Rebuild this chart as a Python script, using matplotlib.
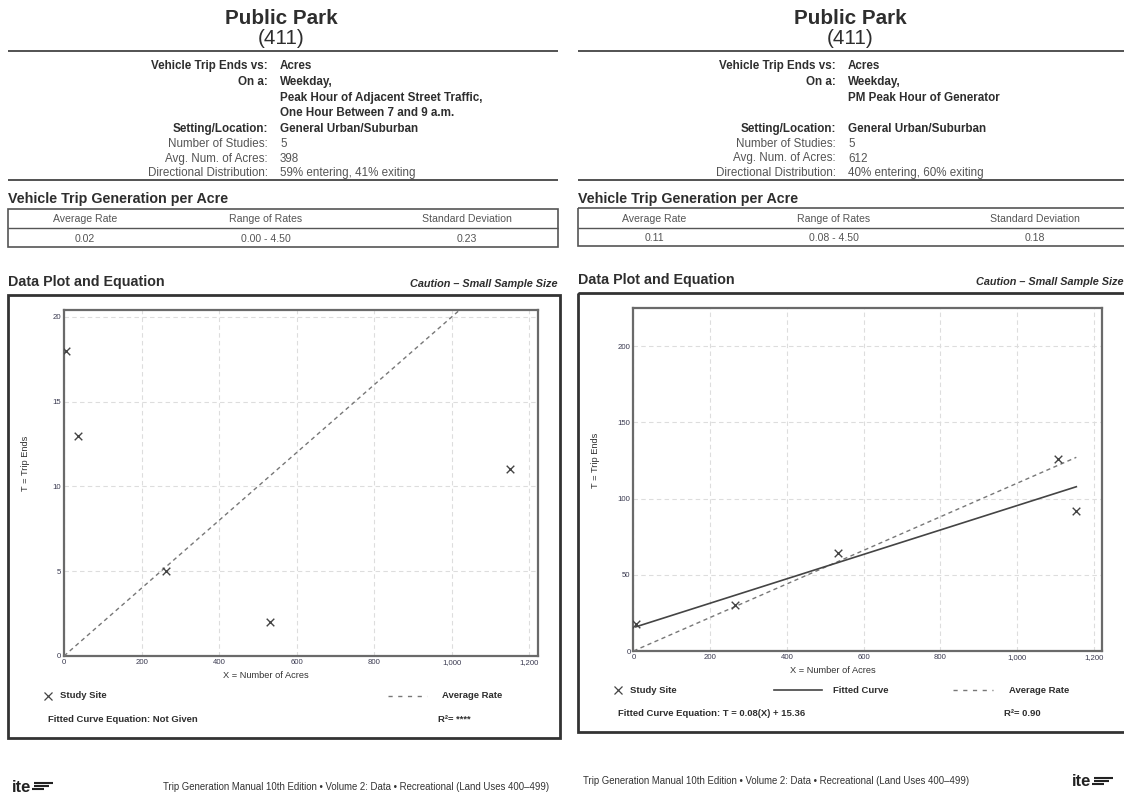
import matplotlib
matplotlib.use("Agg")
import matplotlib.pyplot as plt
from matplotlib.patches import Rectangle
from matplotlib.lines import Line2D

plt.rcParams['font.family'] = ['Liberation Sans', 'DejaVu Sans']

# ---------------- data ----------------
land_use = "Public Park"
land_use_code = "(411)"

left_info_labels = ["Vehicle Trip Ends vs:", "On a:", "", "", "Setting/Location:",
                    "Number of Studies:", "Avg. Num. of Acres:", "Directional Distribution:"]
left_info_values = ["Acres", "Weekday,", "Peak Hour of Adjacent Street Traffic,",
                    "One Hour Between 7 and 9 a.m.", "General Urban/Suburban",
                    "5", "398", "59% entering, 41% exiting"]
right_info_labels = ["Vehicle Trip Ends vs:", "On a:", "", "", "Setting/Location:",
                     "Number of Studies:", "Avg. Num. of Acres:", "Directional Distribution:"]
right_info_values = ["Acres", "Weekday,", "PM Peak Hour of Generator", "",
                     "General Urban/Suburban", "5", "612", "40% entering, 60% exiting"]

table_headers = ["Average Rate", "Range of Rates", "Standard Deviation"]
left_table_values = ["0.02", "0.00 - 4.50", "0.23"]
right_table_values = ["0.11", "0.08 - 4.50", "0.18"]

left_acres = [5, 36, 264, 531, 1150]
left_trips = [18, 13, 5, 2, 11]
left_avg_rate = 0.02

right_acres = [6, 265, 533, 1107, 1155]
right_trips = [18, 30, 64, 126, 92]
right_avg_rate = 0.11
right_fit_slope = 0.08
right_fit_intercept = 15.36
right_r2 = "0.90"

x_ticks = [0, 200, 400, 600, 800, 1000, 1200]
x_tick_labels = ["0", "200", "400", "600", "800", "1,000", "1,200"]
left_y_ticks = [0, 5, 10, 15, 20]
right_y_ticks = [0, 50, 100, 150, 200]

footer = "Trip Generation Manual 10th Edition \u2022 Volume 2: Data \u2022 Recreational (Land Uses 400\u2013499)"

# ---------------- page ----------------
W, H = 1124, 794
fig = plt.figure(figsize=(W / 100, H / 100), dpi=100)
fig.patch.set_facecolor("white")

page = fig.add_axes([0, 0, 1, 1], zorder=0)
page.set_xlim(0, W)
page.set_ylim(H, 0)
page.axis("off")

DARK = "#2e2e2e"
GRAY = "#555555"
INFO_FS = 8.4
TABLE_FS = 7.6
HEAD_FS = 10.3
LEG_FS = 6.8
AXLAB_FS = 6.7


def hline(x0, x1, y, lw=1.3, color="#444444"):
    page.add_line(Line2D([x0, x1], [y, y], lw=lw, color=color, solid_capstyle="butt"))


def header_block(x0, x1, cx, lx, labels, values, row_ys):
    page.text(cx, 18, land_use, ha="center", va="center", fontsize=14.9,
              fontweight="bold", color=DARK)
    page.text(cx, 39, land_use_code, ha="center", va="center", fontsize=14.9,
              color=DARK)
    hline(x0, x1, 50.5)
    for i, (lab, val, y) in enumerate(zip(labels, values, row_ys)):
        bold = i < 5
        col = DARK if bold else GRAY
        fw = "bold" if bold else "normal"
        if lab:
            page.text(lx, y, lab, ha="right", va="center", fontsize=INFO_FS,
                      fontweight=fw, color=col)
        if val:
            page.text(lx + 12, y, val, ha="left", va="center", fontsize=INFO_FS,
                      fontweight=fw, color=col)
    hline(x0, x1, 180)


def rate_table(x0, x1, top, mid, bottom, col_x, values):
    page.text(x0 + 0.5, top - 9.5, "Vehicle Trip Generation per Acre", ha="left",
              va="center", fontsize=HEAD_FS, fontweight="bold", color=DARK)
    page.add_patch(Rectangle((x0, top), x1 - x0, bottom - top, fill=False,
                             lw=1.2, edgecolor="#555555"))
    hline(x0, x1, mid, lw=1.0, color="#555555")
    for cx, h, v in zip(col_x, table_headers, values):
        page.text(cx, (top + mid) / 2 + 0.5, h, ha="center", va="center",
                  fontsize=TABLE_FS, color=GRAY)
        page.text(cx, (mid + bottom) / 2 + 1.5, v, ha="center", va="center",
                  fontsize=TABLE_FS, color=GRAY)


def plot_frame(x0, x1, title_y, box_top, box_bottom, box_right):
    page.text(x0 + 0.5, title_y, "Data Plot and Equation", ha="left", va="center",
              fontsize=HEAD_FS, fontweight="bold", color=DARK)
    page.text(x1, title_y + 2, "Caution \u2013 Small Sample Size", ha="right",
              va="center", fontsize=7.8, fontweight="bold", style="italic",
              color=DARK)
    page.add_patch(Rectangle((x0, box_top), box_right - x0, box_bottom - box_top,
                             fill=False, lw=2.0, edgecolor="#333333"))


def data_axes(rect_px, xmax, ymax, yticks):
    l, t, r, b = rect_px
    ax = fig.add_axes([l / W, 1 - b / H, (r - l) / W, (b - t) / H], zorder=2)
    ax.set_xlim(0, xmax)
    ax.set_ylim(0, ymax)
    ax.set_xticks(x_ticks)
    ax.set_xticklabels(x_tick_labels)
    ax.set_yticks(yticks)
    ax.tick_params(length=0, labelsize=5.6, colors="#3a3a50", pad=2)
    ax.grid(True, color="#dddddd", lw=0.8, ls=(0, (4, 3)))
    ax.set_axisbelow(True)
    for s in ax.spines.values():
        s.set_color("#6a6a6a")
        s.set_linewidth(1.6)
    return ax


# ---------------- left panel ----------------
header_block(8, 558, 281.5, 268,
             left_info_labels, left_info_values,
             [66, 81.7, 98, 113.5, 129.3, 144.3, 159.3, 173.3])
rate_table(8, 558, 209, 228.3, 246.7, [85, 266, 467], left_table_values)
plot_frame(8, 558, 281.7, 295, 737.5, 560)

axL = data_axes((64, 310, 538, 656), 1222, 20.4, left_y_ticks)
axL.scatter(left_acres, left_trips, marker="x", s=30, color="#444444",
            lw=1.0, zorder=4)
xs = [0, max(left_acres)]
axL.plot(xs, [left_avg_rate * v for v in xs], color="#777777", lw=1.0,
         ls=(0, (3, 2.5)), zorder=3)
page.text(266, 675.7, "X = Number of Acres", ha="center", va="center",
          fontsize=AXLAB_FS, color="#333333")
page.text(25.5, 463, "T = Trip Ends", ha="center", va="center", rotation=90,
          fontsize=AXLAB_FS, color="#333333")

# legend / equation, left
page.plot([48.2], [695.5], marker="x", ms=5.5, mew=0.9, color="#444444")
page.text(60, 696, "Study Site", ha="left", va="center", fontsize=LEG_FS,
          fontweight="bold", color=DARK)
page.add_line(Line2D([387.5, 427], [695.5, 695.5], color="#777777", lw=1.0,
                     ls=(0, (3, 4))))
page.text(442, 696, "Average Rate", ha="left", va="center", fontsize=LEG_FS,
          fontweight="bold", color=DARK)
page.text(48.2, 719, "Fitted Curve Equation: Not Given", ha="left", va="center",
          fontsize=LEG_FS, fontweight="bold", color=DARK)
page.text(437.5, 719, "R\u00b2= ****", ha="left", va="center", fontsize=LEG_FS,
          fontweight="bold", color=DARK)

# ---------------- right panel ----------------
header_block(578, 1126, 850, 836,
             right_info_labels, right_info_values,
             [66, 81.7, 98, 113.5, 129.3, 144.3, 158.5, 172.7])
rate_table(578, 1128, 208.3, 227.7, 246, [654.5, 834, 1035], right_table_values)
plot_frame(578, 1124, 280, 292.5, 731.5, 1128)

axR = data_axes((633.5, 308, 1102, 651), 1222, 225, right_y_ticks)
axR.scatter(right_acres, right_trips, marker="x", s=30, color="#444444",
            lw=1.0, zorder=4)
xs = [0, max(right_acres)]
axR.plot(xs, [right_avg_rate * v for v in xs], color="#777777", lw=1.0,
         ls=(0, (3, 2.5)), zorder=3)
xf = [min(right_acres), max(right_acres)]
axR.plot(xf, [right_fit_slope * v + right_fit_intercept for v in xf],
         color="#444444", lw=1.2, zorder=3)
page.text(833, 670.7, "X = Number of Acres", ha="center", va="center",
          fontsize=AXLAB_FS, color="#333333")
page.text(595.4, 460, "T = Trip Ends", ha="center", va="center", rotation=90,
          fontsize=AXLAB_FS, color="#333333")

# legend / equation, right
page.plot([617.7], [690], marker="x", ms=5.5, mew=0.9, color="#444444")
page.text(630, 690.7, "Study Site", ha="left", va="center", fontsize=LEG_FS,
          fontweight="bold", color=DARK)
page.add_line(Line2D([774, 822], [690, 690], color="#444444", lw=1.2))
page.text(833, 690.7, "Fitted Curve", ha="left", va="center", fontsize=LEG_FS,
          fontweight="bold", color=DARK)
page.add_line(Line2D([953, 993], [690, 690], color="#777777", lw=1.0,
                     ls=(0, (3, 4))))
page.text(1009, 690.7, "Average Rate", ha="left", va="center", fontsize=LEG_FS,
          fontweight="bold", color=DARK)
page.text(618.4, 713.3,
          f"Fitted Curve Equation: T = {right_fit_slope:.2f}(X) + {right_fit_intercept:.2f}",
          ha="left", va="center", fontsize=LEG_FS, fontweight="bold", color=DARK)
page.text(1004, 713.3, f"R\u00b2= {right_r2}", ha="left", va="center",
          fontsize=LEG_FS, fontweight="bold", color=DARK)


# ---------------- footers ----------------
def ite_logo(x, y):
    page.text(x, y, "ite", ha="left", va="center", fontsize=12,
              fontweight="bold", color="#222222")
    for i, (dx0, dx1) in enumerate([(22, 41), (22, 37), (20, 32)]):
        yy = y - 4 + i * 3.2
        page.add_line(Line2D([x + dx0, x + dx1], [yy, yy], lw=1.5,
                             color="#222222", solid_capstyle="butt"))


ite_logo(12, 787)
page.text(549, 787, footer, ha="right", va="center", fontsize=6.9,
          color="#333333")
page.text(583, 781, footer, ha="left", va="center", fontsize=6.9,
          color="#333333")
ite_logo(1072, 782)

fig.savefig("out.png", dpi=100, facecolor="white")
